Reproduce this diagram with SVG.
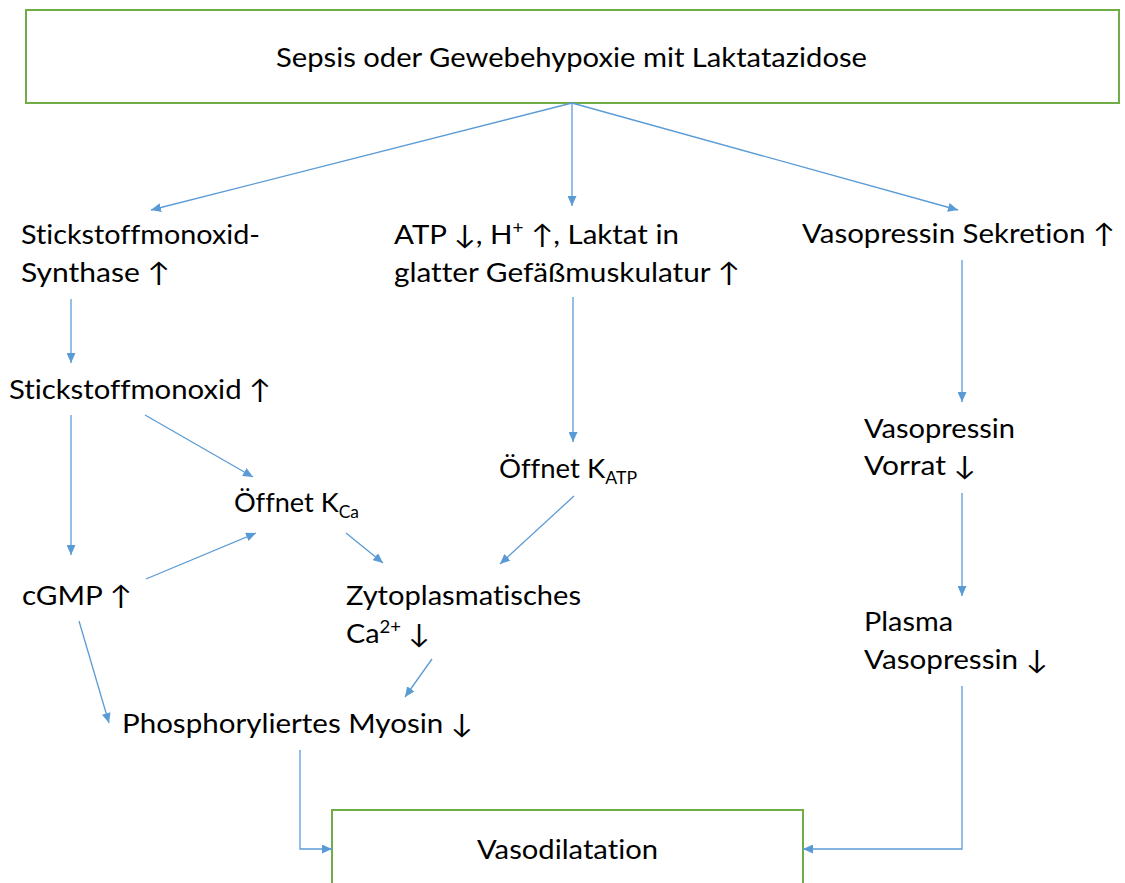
<svg xmlns="http://www.w3.org/2000/svg" width="1125" height="883" viewBox="0 0 1125 883">
<defs>
<style>
.box{fill:#fff;stroke:#70AD47;stroke-width:2}
.t{font-family:Lato,"Open Sans","DejaVu Sans",sans-serif;font-size:26.5px;fill:#000;font-variant-ligatures:none}
.s{font-size:17px}
.c line,.c path{stroke:#5B9BD5;stroke-width:1.3;fill:none;marker-end:url(#ah)}
</style>
<marker id="ah" markerUnits="userSpaceOnUse" markerWidth="10" markerHeight="9" refX="10" refY="4.5" orient="auto">
<path d="M0,0 L10,4.5 L0,9 z" fill="#5B9BD5"/>
</marker>
</defs>
<rect width="1125" height="883" fill="#fff"/>
<g id="top"><rect class="box" x="26" y="10" width="1093" height="93"/>
<text class="t" x="276" y="67" textLength="591" lengthAdjust="spacingAndGlyphs">Sepsis oder Gewebehypoxie mit Laktatazidose</text></g>
<g id="bottom"><rect class="box" x="332" y="810" width="471" height="100"/>
<text class="t" x="477" y="859" textLength="181" lengthAdjust="spacingAndGlyphs">Vasodilatation</text></g>
<g id="nos"><text class="t" x="21" y="244" textLength="239" lengthAdjust="spacingAndGlyphs">Stickstoffmonoxid-</text>
<text class="t" x="21" y="282" textLength="149" lengthAdjust="spacingAndGlyphs">Synthase ↑</text></g>
<g id="atp"><text class="t" x="394" y="244" textLength="285" lengthAdjust="spacingAndGlyphs">ATP ↓, H<tspan class="s" dy="-10">+</tspan><tspan dy="10"> ↑, Laktat in</tspan></text>
<text class="t" x="394" y="282" textLength="346" lengthAdjust="spacingAndGlyphs">glatter Gefäßmuskulatur ↑</text></g>
<g id="vsek"><text class="t" x="802" y="243" textLength="313" lengthAdjust="spacingAndGlyphs">Vasopressin Sekretion ↑</text></g>
<g id="no"><text class="t" x="9" y="399" textLength="262" lengthAdjust="spacingAndGlyphs">Stickstoffmonoxid ↑</text></g>
<g id="kca"><text class="t" x="234" y="512" textLength="125" lengthAdjust="spacingAndGlyphs">Öffnet K<tspan class="s" dy="6">Ca</tspan></text></g>
<g id="katp"><text class="t" x="499" y="478" textLength="138" lengthAdjust="spacingAndGlyphs">Öffnet K<tspan class="s" dy="6">ATP</tspan></text></g>
<g id="vvor"><text class="t" x="864" y="438" textLength="151" lengthAdjust="spacingAndGlyphs">Vasopressin</text>
<text class="t" x="864" y="475" textLength="112" lengthAdjust="spacingAndGlyphs">Vorrat ↓</text></g>
<g id="cgmp"><text class="t" x="22" y="605" textLength="110" lengthAdjust="spacingAndGlyphs">cGMP ↑</text></g>
<g id="zyto"><text class="t" x="346" y="605" textLength="235" lengthAdjust="spacingAndGlyphs">Zytoplasmatisches</text>
<text class="t" x="346" y="643" textLength="84" lengthAdjust="spacingAndGlyphs">Ca<tspan class="s" dy="-10">2+</tspan><tspan dy="10"> ↓</tspan></text></g>
<g id="plasma"><text class="t" x="864" y="631" textLength="89" lengthAdjust="spacingAndGlyphs">Plasma</text>
<text class="t" x="864" y="669" textLength="184" lengthAdjust="spacingAndGlyphs">Vasopressin ↓</text></g>
<g id="myosin"><text class="t" x="122" y="733" textLength="351" lengthAdjust="spacingAndGlyphs">Phosphoryliertes Myosin ↓</text></g>
<g class="c" id="connectors">
<line x1="572" y1="103" x2="151" y2="210"/>
<line x1="572" y1="103" x2="572" y2="206"/>
<line x1="572" y1="103" x2="958" y2="210"/>
<line x1="71" y1="299" x2="71" y2="363"/>
<line x1="71" y1="415" x2="71" y2="555"/>
<line x1="145" y1="415" x2="253" y2="477"/>
<line x1="573" y1="297" x2="573" y2="442"/>
<line x1="962" y1="260" x2="962" y2="402"/>
<line x1="962" y1="493" x2="962" y2="596"/>
<line x1="146" y1="579" x2="256" y2="533"/>
<line x1="346" y1="533" x2="383" y2="563"/>
<line x1="574" y1="496" x2="500" y2="564"/>
<line x1="432" y1="659" x2="405" y2="697"/>
<line x1="79" y1="621" x2="109" y2="723"/>
<path d="M300,750 V849 H332"/>
<path d="M962,686 V849 H803"/>
</g>
</svg>
